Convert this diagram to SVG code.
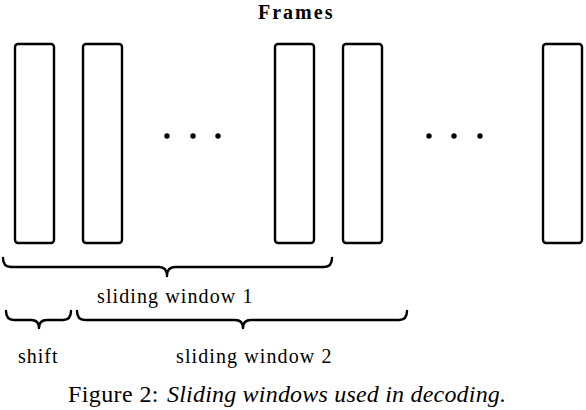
<svg xmlns="http://www.w3.org/2000/svg" width="586" height="410" viewBox="0 0 586 410">
<style>
.frame{fill:none;stroke:#000;stroke-width:2.4}
.brace{fill:none;stroke:#000;stroke-width:2.4;stroke-linecap:round;stroke-linejoin:round}
.dot{fill:#000}
</style>
<rect width="586" height="410" fill="#fff"/>
<g font-family="'Liberation Serif', 'Times New Roman', Times, serif" fill="#000">
<text x="258" y="19" font-weight="bold" font-size="20" letter-spacing="2">Frames</text>
<text x="97" y="303" font-size="20" letter-spacing="1.1">sliding window 1</text>
<text x="18" y="363" font-size="20" letter-spacing="1">shift</text>
<text x="176" y="363" font-size="20" letter-spacing="1.1">sliding window 2</text>
<text x="68" y="402" font-size="24" letter-spacing="0.4">Figure 2:<tspan x="167" font-style="italic" letter-spacing="0.2">Sliding windows used in decoding.</tspan></text>
</g>
<g id="frame1"><rect class="frame" x="15" y="44" width="39" height="199" rx="3"/></g>
<g id="frame2"><rect class="frame" x="83" y="44" width="39" height="199" rx="3"/></g>
<g id="dots1"><circle class="dot" cx="167" cy="136" r="2.7"/><circle class="dot" cx="193" cy="136" r="2.7"/><circle class="dot" cx="218" cy="136" r="2.7"/></g>
<g id="frame3"><rect class="frame" x="275" y="44" width="39" height="199" rx="3"/></g>
<g id="frame4"><rect class="frame" x="343" y="44" width="39" height="199" rx="3"/></g>
<g id="dots2"><circle class="dot" cx="429" cy="136" r="2.7"/><circle class="dot" cx="454" cy="136" r="2.7"/><circle class="dot" cx="480" cy="136" r="2.7"/></g>
<g id="frame5"><rect class="frame" x="543" y="44" width="39" height="199" rx="3"/></g>
<g id="braces">
<path class="brace" d="M3,258 Q3,267 11,267 L159,267 Q167,267 167,276 Q167,267 175,267 L324,267 Q332,267 332,258"/>
<path class="brace" d="M6,311 Q6,320 14,320 L31,320 Q39,320 39,328 Q39,320 47,320 L63,320 Q71,320 71,311"/>
<path class="brace" d="M77,311 Q77,320 85,320 L235,320 Q243,320 243,328 Q243,320 251,320 L399,320 Q407,320 407,311"/>
</g>
</svg>
